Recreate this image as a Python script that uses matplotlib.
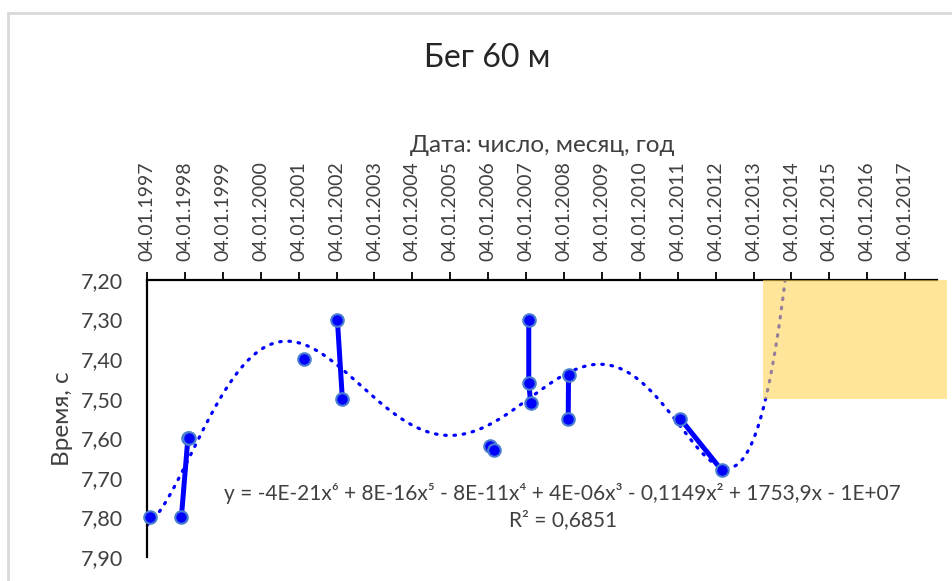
import numpy as np
import pandas as pd
import matplotlib
matplotlib.use("Agg")
import matplotlib.pyplot as plt
import matplotlib.dates as mdates
from matplotlib.patches import Rectangle

plt.rcParams['font.family'] = ['Lato', 'DejaVu Sans']

# results: date of run, time in seconds, group = points joined by a line
dates = ["1997-02-06", "1997-12-01", "1998-02-02", "1998-02-14",
         "2001-02-24", "2002-01-12", "2002-03-01",
         "2006-01-20", "2006-03-01", "2007-01-30", "2007-01-30", "2007-02-17",
         "2008-02-17", "2008-02-14", "2011-01-27", "2012-03-01"]
times = [7.80, 7.80, 7.60, 7.60,
         7.40, 7.30, 7.50,
         7.62, 7.63, 7.30, 7.46, 7.51,
         7.44, 7.55, 7.55, 7.68]
groups = [0, 1, 1, 1, 2, 3, 3, 4, 4, 5, 5, 5, 6, 6, 7, 7]

tick_years = list(range(1997, 2018))
y_ticks = [7.2, 7.3, 7.4, 7.5, 7.6, 7.7, 7.8, 7.9]

equation = ("y = -4E-21x\u2076 + 8E-16x\u2075 - 8E-11x\u2074 + 4E-06x\u00b3"
            " - 0,1149x\u00b2 + 1753,9x - 1E+07")
r2_text = "R\u00b2 = 0,6851"

d = pd.to_datetime(dates)
t = np.array(times)
g = np.array(groups)

fig = plt.figure(figsize=(9.53, 5.81), dpi=100)
ax = fig.add_axes([147/953, 1 - 557/581, 790/953, 277/581])

# chart frame
fig.patches.append(Rectangle((8/953, -0.1), 1.2, 1 - 13/581 + 0.1,
                             transform=fig.transFigure, fill=False,
                             edgecolor='#d9d9d9', lw=2))

x_start = pd.Timestamp("1997-01-04")
x_end = pd.Timestamp("2017-11-06")

# 6th order polynomial trend (fit on days, centred)
xn = mdates.date2num(d)
x0 = xn.mean()
coef = np.polyfit(xn - x0, t, 6)
xs = np.linspace(mdates.date2num(x_start), mdates.date2num(pd.Timestamp("2014-03-01")), 600)
ax.plot(mdates.num2date(xs), np.polyval(coef, xs - x0), color='#0000ff',
        lw=2.3, dashes=(0.5, 2.4), dash_capstyle='round', zorder=2)

for k in np.unique(g):
    m = g == k
    ax.plot(d[m], t[m], color='#0000ff', lw=3.6, marker='o', ms=9,
            mfc='#0000ff', mec='#4a7fd0', mew=1.5, zorder=3, clip_on=False)

# highlighted zone (semi-transparent, trend shows through)
r0 = mdates.date2num(pd.Timestamp("2013-04-08"))
r1 = mdates.date2num(pd.Timestamp("2018-02-15"))
ax.add_patch(Rectangle((r0, 7.2), r1 - r0, 0.3, facecolor='#ffd555',
                       edgecolor='none', alpha=0.6, zorder=4, clip_on=False))

ax.set_xlim(x_start, x_end)
ax.set_ylim(7.9, 7.2)
ax.xaxis.tick_top()
ax.xaxis.set_label_position('top')
ax.set_xticks([pd.Timestamp(f"{y}-01-04") for y in tick_years])
ax.xaxis.set_major_formatter(mdates.DateFormatter('%d.%m.%Y'))
ax.tick_params(axis='x', labelrotation=90, length=6, width=1.3, pad=8,
               labelsize=14, labelcolor='#404040')
ax.set_yticks(y_ticks)
ax.set_yticklabels([f"{v:.2f}".replace('.', ',') for v in y_ticks])
ax.tick_params(axis='y', length=0, pad=17, labelsize=15.5, labelcolor='#404040')

for s in ['right', 'bottom']:
    ax.spines[s].set_visible(False)
for s in ['top', 'left']:
    ax.spines[s].set_linewidth(1.6)

ax.set_xlabel("Дата: число, месяц, год", fontsize=17.5, color='#404040', labelpad=6)
ax.set_ylabel("Время, с", fontsize=17.5, color='#404040', labelpad=6)

fig.text(487/953, 1 - 58/581, "Бег 60 м", ha='center', va='center',
         fontsize=23, color='#262626')
fig.text(562/953, 1 - 493/581, equation, ha='center', va='center',
         fontsize=15, color='#404040')
fig.text(563/953, 1 - 520/581, r2_text, ha='center', va='center',
         fontsize=15, color='#404040')

fig.savefig("out.png", dpi=100)
